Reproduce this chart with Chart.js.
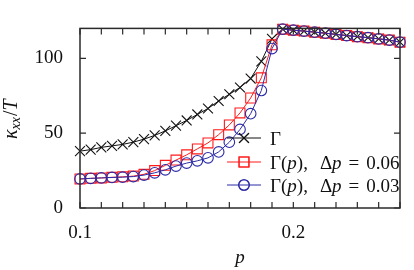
<!DOCTYPE html>
<html>
<head>
<meta charset="utf-8">
<script src="https://cdn.jsdelivr.net/npm/chart.js@4.4.1/dist/chart.umd.min.js"></script>
<style>
  html, body { margin: 0; padding: 0; background: #fff; }
  #wrap { width: 414px; height: 270px; }
</style>
</head>
<body>
<div id="wrap"><canvas id="c" width="414" height="270"></canvas></div>
<script>
var pValues = [0.100, 0.105, 0.110, 0.115, 0.120, 0.125, 0.130, 0.135, 0.140, 0.145,
               0.150, 0.155, 0.160, 0.165, 0.170, 0.175, 0.180, 0.185, 0.190, 0.195,
               0.200, 0.205, 0.210, 0.215, 0.220, 0.225, 0.230, 0.235, 0.240, 0.245, 0.250];

// Gamma
var kappaGamma = [38, 39, 40.5, 41.5, 42.5, 44, 46, 48.5, 51.5, 55,
                  58.5, 62.5, 66.5, 71.5, 76, 80.5, 86.5, 98, 113, 119.5,
                  118.8, 118.2, 117.5, 116.8, 116, 115.2, 114.5, 113.8, 113, 112.2, 110.8];
// Gamma(p), dp = 0.06
var kappaGammaP06 = [19.4, 19.8, 20.1, 20.5, 20.8, 21.3, 22.5, 25, 28.5, 32,
                     35.5, 39.5, 43.5, 49, 55.5, 63.5, 73.5, 87, 109, 119.5,
                     118.8, 118.2, 117.5, 116.8, 116, 115.2, 114.5, 113.8, 113, 112.2, 110.8];
// Gamma(p), dp = 0.03
var kappaGammaP03 = [19.4, 19.8, 20.1, 20.4, 20.6, 21, 22, 23.5, 25.5, 28,
                     30, 31.5, 33.5, 37.5, 44, 52.5, 63, 78.5, 106.5, 119.5,
                     118.8, 118.2, 117.5, 116.8, 116, 115.2, 114.5, 113.8, 113, 112.2, 110.8];

var xTickValues = [0.10, 0.11, 0.12, 0.13, 0.14, 0.15, 0.16, 0.17, 0.18, 0.19,
                   0.20, 0.21, 0.22, 0.23, 0.24, 0.25];
var xTickLabels = ["0.1", "0.2"];
var yTickValues = [0, 50, 100];

var SERIF = '"Liberation Serif", "DejaVu Serif", serif';

function pts(arr) {
  return pValues.map(function(p, i) { return { x: p, y: arr[i] }; });
}

function labelFor(v) {
  for (var i = 0; i < xTickLabels.length; i++) {
    if (Math.abs(parseFloat(xTickLabels[i]) - v) < 1e-6) return xTickLabels[i];
  }
  return "";
}

// draws a list of text runs one after the other
function drawRuns(ctx, runs, x, y) {
  runs.forEach(function(r) {
    if (r.gap) { x += r.gap; return; }
    ctx.font = (r.i ? "italic " : "") + (r.size || 19) + "px " + SERIF;
    ctx.fillText(r.t, x, y + (r.dy || 0));
    x += ctx.measureText(r.t).width;
  });
  return x;
}
function runsWidth(ctx, runs) {
  var w = 0;
  runs.forEach(function(r) {
    if (r.gap) { w += r.gap; return; }
    ctx.font = (r.i ? "italic " : "") + (r.size || 19) + "px " + SERIF;
    w += ctx.measureText(r.t).width;
  });
  return w;
}

var frame = {
  id: "frame",
  afterDatasetsDraw: function(chart) {
    var ctx = chart.ctx, a = chart.chartArea;
    var xs = chart.scales.x, ys = chart.scales.y;
    ctx.save();
    ctx.strokeStyle = "#2a2a2a";
    ctx.lineWidth = 1.5;
    ctx.strokeRect(a.left, a.top, a.right - a.left, a.bottom - a.top);
    ctx.lineWidth = 1.2;
    ctx.beginPath();
    xs.ticks.forEach(function(t) {
      var px = xs.getPixelForValue(t.value);
      ctx.moveTo(px, a.bottom); ctx.lineTo(px, a.bottom - 6);
      ctx.moveTo(px, a.top); ctx.lineTo(px, a.top + 6);
    });
    ys.ticks.forEach(function(t) {
      var py = ys.getPixelForValue(t.value);
      ctx.moveTo(a.left, py); ctx.lineTo(a.left + 6, py);
      ctx.moveTo(a.right, py); ctx.lineTo(a.right - 6, py);
    });
    ctx.stroke();
    ctx.restore();
  },
  afterDraw: function(chart) {
    var ctx = chart.ctx, a = chart.chartArea;
    ctx.save();
    ctx.fillStyle = "#111";
    ctx.textBaseline = "alphabetic";
    // x title
    ctx.font = "italic 19px " + SERIF;
    ctx.textAlign = "center";
    ctx.fillText("p", (a.left + a.right) / 2, 263);
    ctx.textAlign = "left";
    // y title
    var yRuns = [{ t: "\u03BA", i: true, size: 20 }, { t: "xx", i: true, size: 14, dy: 3 }, { gap: 1 }, { t: "/", size: 20 }, { t: "T", i: true, size: 20 }];
    ctx.translate(17, (a.top + a.bottom) / 2 + 1);
    ctx.rotate(-Math.PI / 2);
    drawRuns(ctx, yRuns, -runsWidth(ctx, yRuns) / 2, 0);
    ctx.restore();
  }
};

var legendRows = [
  { ds: 0, runs: [{ t: "\u0393" }] },
  { ds: 1, runs: [{ t: "\u0393(" }, { t: "p", i: true }, { t: ")," }, { gap: 12 }, { t: "\u0394" }, { t: "p", i: true }, { gap: 7 }, { t: "=" }, { gap: 7 }, { t: "0.06" }] },
  { ds: 2, runs: [{ t: "\u0393(" }, { t: "p", i: true }, { t: ")," }, { gap: 12 }, { t: "\u0394" }, { t: "p", i: true }, { gap: 7 }, { t: "=" }, { gap: 7 }, { t: "0.03" }] }
];
var legendBox = {
  id: "legendBox",
  afterDraw: function(chart) {
    var ctx = chart.ctx;
    var rowY = [138, 162, 185];
    legendRows.forEach(function(row, k) {
      var ds = chart.data.datasets[row.ds];
      var y = rowY[k];
      ctx.save();
      ctx.strokeStyle = ds.borderColor;
      ctx.lineWidth = ds.borderWidth;
      ctx.beginPath(); ctx.moveTo(227, y); ctx.lineTo(261, y); ctx.stroke();
      ctx.lineWidth = ds.pointBorderWidth;
      Chart.helpers.drawPoint(ctx, { pointStyle: ds.pointStyle, radius: ds.pointRadius, borderWidth: ds.pointBorderWidth, rotation: 0 }, 244, y);
      ctx.stroke();
      ctx.fillStyle = "#111";
      ctx.textBaseline = "alphabetic";
      drawRuns(ctx, row.runs, 270, y + 6.5);
      ctx.restore();
    });
  }
};

new Chart(document.getElementById("c"), {
  type: "line",
  data: {
    datasets: [{
      label: "\u0393",
      data: pts(kappaGamma),
      borderColor: "#111",
      borderWidth: 1,
      pointStyle: "crossRot",
      pointRadius: 7,
      pointBorderWidth: 1.1,
      pointBorderColor: "#111",
      pointBackgroundColor: "transparent",
      order: 3
    }, {
      label: "\u0393(p), \u0394p = 0.06",
      data: pts(kappaGammaP06),
      borderColor: "#ff1a1a",
      borderWidth: 1,
      pointStyle: "rect",
      pointRadius: 7,
      pointBorderWidth: 1.1,
      pointBorderColor: "#ff1a1a",
      pointBackgroundColor: "transparent",
      order: 2
    }, {
      label: "\u0393(p), \u0394p = 0.03",
      data: pts(kappaGammaP03),
      borderColor: "#2b2ba6",
      borderWidth: 1,
      pointStyle: "circle",
      pointRadius: 5.3,
      pointBorderWidth: 1.1,
      pointBorderColor: "#2b2ba6",
      pointBackgroundColor: "transparent",
      order: 1
    }]
  },
  options: {
    responsive: false,
    animation: false,
    devicePixelRatio: 1,
    layout: { padding: { top: 5, right: 6, left: 0, bottom: 0 } },
    elements: { line: { tension: 0, fill: false } },
    datasets: { line: { clip: false } },
    scales: {
      x: {
        type: "linear",
        min: 0.1, max: 0.25,
        grid: { display: false, drawTicks: false },
        border: { display: false },
        afterBuildTicks: function(s) { s.ticks = xTickValues.map(function(v) { return { value: v }; }); },
        afterFit: function(s) { s.height = 62; },
        ticks: {
          autoSkip: false, maxRotation: 0, padding: 14,
          color: "#111", font: { family: SERIF, size: 19 },
          callback: function(v) { return labelFor(v); }
        }
      },
      y: {
        type: "linear",
        min: 0, max: 120,
        grid: { display: false, drawTicks: false },
        border: { display: false },
        afterBuildTicks: function(s) { s.ticks = yTickValues.map(function(v) { return { value: v }; }); },
        afterFit: function(s) { s.width = 80; },
        ticks: {
          padding: 17,
          color: "#111", font: { family: SERIF, size: 19 },
          callback: function(v) { return String(v); }
        }
      }
    },
    plugins: {
      legend: { display: false },
      tooltip: { enabled: false }
    }
  },
  plugins: [frame, legendBox]
});
</script>
</body>
</html>
